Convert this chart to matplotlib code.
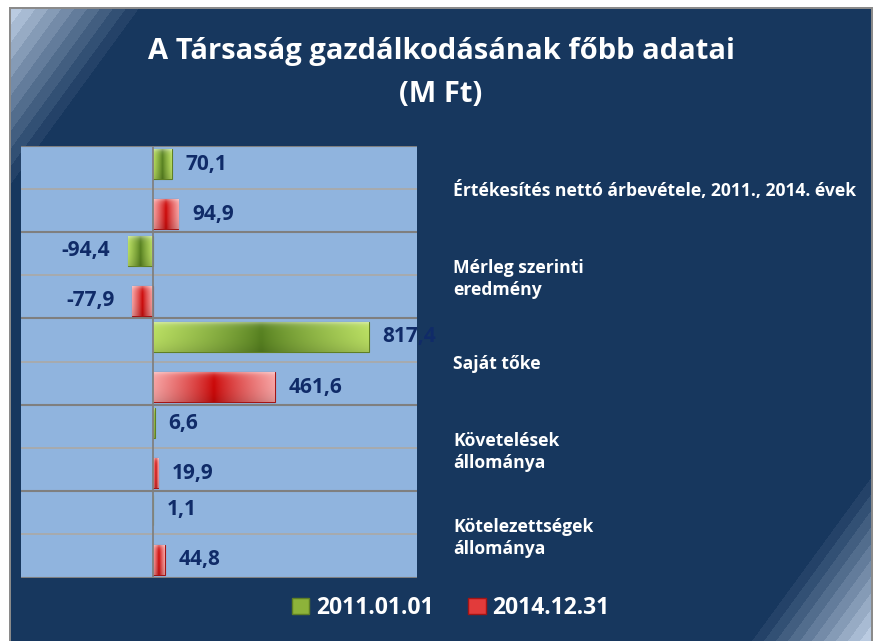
import numpy as np
import matplotlib
matplotlib.use("Agg")
import matplotlib.pyplot as plt
from matplotlib.colors import to_rgb
from matplotlib.patches import Patch

# ---------------------------------------------------------------------------
# data
# ---------------------------------------------------------------------------
categories = [
    "Értékesítés nettó árbevétele, 2011., 2014. évek",
    "Mérleg szerinti\neredmény",
    "Saját tőke",
    "Követelések\nállománya",
    "Kötelezettségek\nállománya",
]
series_names = ["2011.01.01", "2014.12.31"]
values_2011 = [70.1, -94.4, 817.4, 6.6, 1.1]
values_2014 = [94.9, -77.9, 461.6, 19.9, 44.8]

title = "A Társaság gazdálkodásának főbb adatai\n(M Ft)"

# ---------------------------------------------------------------------------
# style
# ---------------------------------------------------------------------------
plt.rcParams["font.family"] = ["Open Sans", "DejaVu Sans"]
navy = "#17375e"
label_col = "#102b68"
green_end, green_mid, green_edge = "#b9de62", "#557f1f", "#5f7f25"
red_end, red_mid, red_edge = "#f7a3a3", "#cc0606", "#a31515"

W, H = 884, 641
fig = plt.figure(figsize=(W / 100, H / 100), dpi=100)

# background: frame, navy fill and the diagonal light bands in two corners
yy, xx = np.mgrid[0:H, 0:W] + 0.5
img = np.ones((H, W, 3))
inside = (xx >= 11) & (xx <= 871) & (yy >= 9)
c = xx + 0.73 * yy
t1 = np.clip((158 - c) / (158 - 16), 0, 1)
t2 = np.clip((c - 1208) / (1340 - 1208), 0, 1)
t = np.floor(np.maximum(t1, t2) * 11) / 11
light = np.array(to_rgb("#cddcf0"))
nv = np.array(to_rgb(navy))
col = nv + (t[..., None] ** 1.1) * (light - nv)
img[inside] = col[inside]
border = (((xx >= 9) & (xx < 11)) | ((xx > 871) & (xx <= 873))) & (yy >= 7)
border |= ((yy >= 7) & (yy < 9)) & (xx >= 9) & (xx <= 873)
img[border] = to_rgb("#8a8a8a")

bg = fig.add_axes([0, 0, 1, 1], zorder=-10)
bg.imshow(img, extent=(0, W, H, 0), aspect="auto", interpolation="nearest")
bg.set_xlim(0, W)
bg.set_ylim(H, 0)
bg.axis("off")

# plot area
ax = fig.add_axes([21 / W, 1 - 577.6 / H, (417 - 21) / W, (577.6 - 145.6) / H])
ax.set_facecolor("#90b4de")

y = np.arange(len(categories))
h = 0.347
off = [-0.285, 0.294]


def gradient(c_end, c_mid, n=80, rows=20):
    e = np.array(to_rgb(c_end))
    m = np.array(to_rgb(c_mid))
    f = np.abs(np.linspace(-1, 1, n)) ** 0.8
    line = m + f[:, None] * (e - m)
    g = np.repeat(line[None, :, :], rows, axis=0)
    v = np.linspace(0, 1, rows)[:, None, None]
    g = g + (1 - g) * 0.35 * np.exp(-v / 0.08)
    g = g * (1 - 0.12 * v ** 3)
    return np.clip(g, 0, 1)


for vals, o, ce, cm, ed in [(values_2011, off[0], green_end, green_mid, green_edge),
                            (values_2014, off[1], red_end, red_mid, red_edge)]:
    bars = ax.barh(y + o, vals, height=h, color=cm, edgecolor=ed, linewidth=0.8, zorder=3)
    for b, v in zip(bars, vals):
        x0, x1 = min(v, 0), max(v, 0)
        yc = b.get_y() + h / 2
        im = ax.imshow(gradient(ce, cm), extent=(x0, x1, yc + h / 2, yc - h / 2),
                       aspect="auto", zorder=3.5, interpolation="bilinear")
        im.set_clip_path(b)
        if v >= 0:
            ax.annotate(f"{v:.1f}".replace(".", ","), (v, yc), xytext=(10, 0),
                        textcoords="offset points", ha="left", va="center",
                        fontsize=15, fontweight="bold", color=label_col, zorder=5,
                        annotation_clip=False)
        else:
            ax.annotate(f"{v:.1f}".replace(".", ","), (v, yc), xytext=(-13, 0),
                        textcoords="offset points", ha="right", va="center",
                        fontsize=15, fontweight="bold", color=label_col, zorder=5)

ax.set_xlim(-500, 1000)
ax.set_ylim(len(categories) - 0.5, -0.5)

# gridlines: darker between groups, lighter inside a group
for k in range(len(categories) + 1):
    ax.axhline(k - 0.5, color="#7f7f7f", linewidth=1.5, zorder=2)
for k in range(len(categories)):
    ax.axhline(k, color="#a9a9a9", linewidth=1.3, zorder=2)
ax.axvline(0, color="#808080", linewidth=1.3, zorder=4)

for s in ax.spines.values():
    s.set_visible(False)
ax.set_xticks([])
ax.yaxis.tick_right()
ax.set_yticks(y)
ax.set_yticklabels(categories, fontsize=12.6, fontweight="bold", color="white")
ax.tick_params(axis="y", length=0, pad=26)
for lab in ax.get_yticklabels():
    lab.set_linespacing(1.25)

fig.text(441 / W, 1 - 73 / H, title, ha="center", va="center", fontsize=21,
         fontweight="bold", color="white", linespacing=1.6)

handles = [Patch(facecolor="#8db33a", edgecolor=green_edge),
           Patch(facecolor="#e23b3b", edgecolor=red_edge)]
fig.legend(handles, series_names, loc="center", bbox_to_anchor=(451 / W, 1 - 608 / H),
           ncol=2, frameon=False, handlelength=0.75, handleheight=0.75,
           handletextpad=0.3, columnspacing=1.5,
           prop={"weight": "bold", "size": 16.5}, labelcolor="white")

fig.savefig("out.png", dpi=100)
